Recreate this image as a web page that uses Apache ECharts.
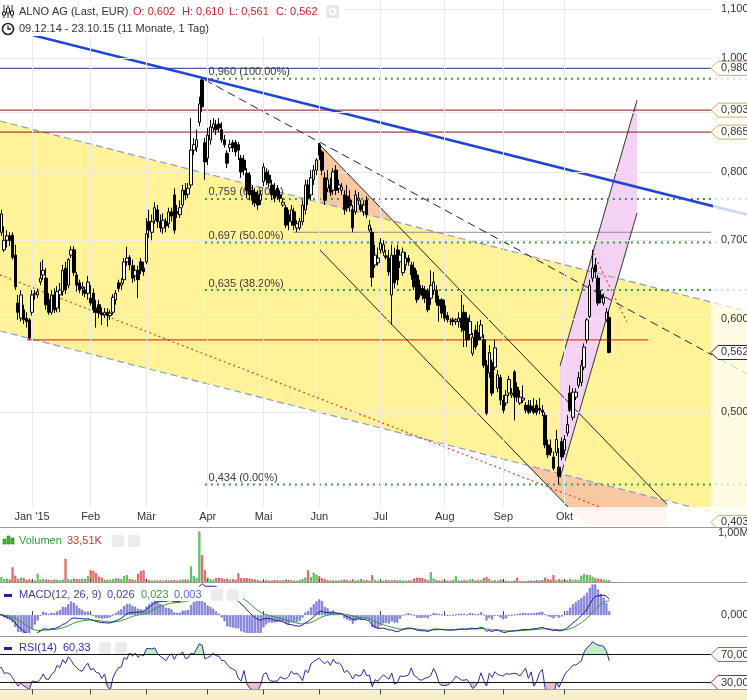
<!DOCTYPE html>
<html>
<head>
<meta charset="utf-8">
<script src="https://cdn.jsdelivr.net/npm/echarts@6/dist/echarts.min.js"></script>
<style>
html,body{margin:0;padding:0;background:#ffffff;}
#chart{width:747px;height:700px;}
</style>
</head>
<body>
<div id="chart"></div>
<script>
// ================= DATA =================
const firstDay = '2014-12-09';
const holidays = ['2014-12-24','2014-12-25','2014-12-26','2014-12-31','2015-01-01','2015-04-03','2015-04-06','2015-05-01'];
const monthNames = ["Jan '15", 'Feb', 'Mär', 'Apr', 'Mai', 'Jun', 'Jul', 'Aug', 'Sep', 'Okt', 'Nov', 'Dez'];

const opens = [
0.726,0.721,0.711,0.687,0.700,0.706,0.707,0.680,0.619,0.601,
0.611,0.601,0.599,0.608,0.631,0.629,0.645,0.654,0.650,0.623,
0.608,0.629,0.613,0.629,0.633,0.663,0.641,0.680,0.687,0.654,
0.644,0.637,0.635,0.631,0.625,0.631,0.613,0.617,0.607,0.605,
0.608,0.604,0.608,0.623,0.644,0.641,0.648,0.671,0.677,0.666,
0.653,0.660,0.671,0.663,0.671,0.726,0.711,0.728,0.743,0.726,
0.717,0.726,0.723,0.740,0.765,0.740,0.736,0.750,0.772,0.766,
0.780,0.835,0.840,0.882,0.958,0.847,0.822,0.852,0.872,0.877,
0.879,0.869,0.852,0.830,0.839,0.847,0.848,0.844,0.822,0.819,
0.798,0.795,0.772,0.769,0.765,0.757,0.785,0.800,0.795,0.780,
0.772,0.775,0.765,0.750,0.746,0.736,0.726,0.740,0.717,0.717,
0.726,0.743,0.780,0.765,0.788,0.803,0.844,0.832,0.791,0.775,
0.780,0.772,0.803,0.775,0.772,0.765,0.763,0.757,0.743,0.740,
0.757,0.750,0.740,0.757,0.714,0.711,0.667,0.670,0.687,0.684,
0.679,0.676,0.629,0.680,0.687,0.671,0.657,0.667,0.676,0.667,
0.663,0.654,0.641,0.637,0.635,0.633,0.625,0.635,0.635,0.623,
0.623,0.616,0.604,0.597,0.599,0.597,0.597,0.601,0.608,0.601,
0.582,0.561,0.587,0.584,0.579,0.576,0.548,0.540,0.551,0.546,
0.524,0.535,0.512,0.509,0.519,0.517,0.541,0.525,0.509,0.512,
0.507,0.507,0.506,0.504,0.507,0.504,0.502,0.497,0.469,0.466,
0.458,0.462,0.449,0.472,0.464,0.480,0.519,0.495,0.515,0.527,
0.530,0.546,0.576,0.603,0.650,0.667,0.650,0.629,0.619,0.599,
0.602];
const closes = [
0.731,0.736,0.737,0.700,0.706,0.700,0.677,0.639,0.608,0.629,
0.599,0.597,0.578,0.629,0.630,0.633,0.650,0.660,0.617,0.608,
0.629,0.611,0.633,0.635,0.660,0.635,0.674,0.687,0.657,0.641,
0.635,0.639,0.631,0.645,0.619,0.611,0.608,0.607,0.605,0.608,
0.604,0.607,0.626,0.631,0.637,0.644,0.671,0.676,0.667,0.650,
0.660,0.648,0.660,0.658,0.709,0.714,0.726,0.746,0.726,0.717,
0.728,0.720,0.740,0.734,0.714,0.738,0.746,0.772,0.765,0.775,
0.835,0.844,0.852,0.914,0.909,0.816,0.860,0.874,0.879,0.869,
0.872,0.852,0.844,0.814,0.844,0.839,0.832,0.835,0.800,0.803,
0.772,0.765,0.757,0.753,0.750,0.765,0.808,0.788,0.783,0.765,
0.760,0.763,0.760,0.754,0.721,0.726,0.743,0.721,0.723,0.726,
0.750,0.780,0.760,0.791,0.803,0.819,0.827,0.803,0.757,0.788,
0.769,0.800,0.772,0.780,0.777,0.743,0.746,0.749,0.717,0.765,
0.760,0.743,0.750,0.736,0.721,0.651,0.680,0.676,0.696,0.694,
0.677,0.658,0.680,0.644,0.648,0.680,0.684,0.676,0.671,0.654,
0.639,0.623,0.629,0.628,0.625,0.611,0.641,0.645,0.620,0.616,
0.607,0.601,0.599,0.597,0.597,0.599,0.601,0.590,0.587,0.576,
0.597,0.579,0.568,0.576,0.593,0.548,0.499,0.562,0.519,0.567,
0.538,0.512,0.502,0.517,0.533,0.519,0.515,0.515,0.515,0.514,
0.502,0.500,0.502,0.500,0.500,0.502,0.500,0.469,0.460,0.462,
0.448,0.474,0.441,0.458,0.474,0.488,0.502,0.520,0.520,0.535,
0.548,0.568,0.599,0.641,0.663,0.658,0.619,0.625,0.626,0.608,
0.562];
const lows = [
0.717,0.711,0.706,0.684,0.690,0.692,0.674,0.635,0.599,0.597,
0.594,0.590,0.576,0.604,0.623,0.625,0.641,0.648,0.611,0.605,
0.605,0.607,0.608,0.608,0.628,0.630,0.637,0.676,0.653,0.633,
0.631,0.628,0.626,0.623,0.616,0.607,0.590,0.601,0.593,0.601,
0.591,0.599,0.605,0.617,0.633,0.635,0.643,0.666,0.660,0.644,
0.646,0.625,0.655,0.653,0.668,0.703,0.700,0.723,0.717,0.711,
0.709,0.711,0.717,0.726,0.709,0.731,0.731,0.746,0.757,0.760,
0.775,0.827,0.832,0.875,0.900,0.788,0.811,0.844,0.865,0.860,
0.865,0.847,0.839,0.806,0.832,0.832,0.825,0.819,0.791,0.795,
0.760,0.757,0.750,0.747,0.743,0.750,0.778,0.780,0.777,0.757,
0.754,0.757,0.754,0.747,0.717,0.714,0.720,0.714,0.711,0.714,
0.721,0.736,0.750,0.757,0.780,0.795,0.819,0.795,0.750,0.769,
0.763,0.765,0.765,0.768,0.765,0.736,0.740,0.740,0.711,0.736,
0.750,0.740,0.734,0.731,0.711,0.639,0.663,0.666,0.682,0.679,
0.674,0.653,0.593,0.637,0.641,0.663,0.653,0.660,0.666,0.648,
0.635,0.619,0.625,0.623,0.619,0.608,0.617,0.629,0.616,0.597,
0.601,0.597,0.596,0.593,0.592,0.593,0.590,0.585,0.568,0.568,
0.576,0.558,0.565,0.570,0.576,0.545,0.497,0.535,0.516,0.543,
0.520,0.507,0.499,0.506,0.516,0.514,0.492,0.510,0.507,0.509,
0.499,0.498,0.499,0.498,0.497,0.498,0.496,0.466,0.457,0.459,
0.446,0.459,0.434,0.455,0.460,0.477,0.500,0.492,0.512,0.524,
0.526,0.543,0.572,0.601,0.645,0.650,0.616,0.619,0.616,0.597,
0.561];
const highs = [
0.740,0.743,0.743,0.719,0.714,0.711,0.711,0.694,0.629,0.635,
0.617,0.608,0.601,0.635,0.635,0.637,0.671,0.674,0.663,0.631,
0.635,0.637,0.640,0.644,0.667,0.671,0.676,0.692,0.692,0.658,
0.648,0.645,0.639,0.653,0.641,0.637,0.623,0.623,0.614,0.613,
0.613,0.611,0.630,0.635,0.648,0.650,0.676,0.691,0.680,0.674,
0.667,0.666,0.676,0.671,0.731,0.743,0.736,0.754,0.750,0.736,
0.738,0.731,0.746,0.746,0.775,0.750,0.757,0.780,0.783,0.783,
0.889,0.855,0.869,0.927,0.960,0.855,0.872,0.886,0.889,0.886,
0.889,0.882,0.860,0.835,0.852,0.852,0.852,0.848,0.827,0.827,
0.806,0.800,0.780,0.775,0.772,0.772,0.814,0.806,0.803,0.788,
0.783,0.780,0.772,0.760,0.750,0.743,0.750,0.746,0.728,0.731,
0.757,0.788,0.788,0.803,0.811,0.822,0.847,0.835,0.800,0.803,
0.791,0.806,0.811,0.788,0.783,0.772,0.780,0.772,0.750,0.772,
0.769,0.757,0.757,0.763,0.728,0.717,0.694,0.690,0.703,0.700,
0.687,0.687,0.694,0.690,0.694,0.687,0.690,0.684,0.680,0.671,
0.671,0.660,0.648,0.641,0.640,0.637,0.660,0.658,0.641,0.628,
0.625,0.623,0.608,0.601,0.602,0.601,0.608,0.629,0.617,0.608,
0.605,0.584,0.593,0.597,0.599,0.582,0.554,0.570,0.554,0.576,
0.543,0.538,0.517,0.522,0.537,0.524,0.543,0.530,0.522,0.527,
0.510,0.512,0.512,0.514,0.512,0.514,0.507,0.500,0.474,0.474,
0.463,0.483,0.466,0.476,0.478,0.497,0.527,0.524,0.524,0.541,
0.554,0.572,0.601,0.648,0.687,0.676,0.654,0.635,0.631,0.613,
0.610];
// volume in thousand shares
const volumesK = [
120,80,100,60,70,50,300,130,60,90,
80,40,60,40,30,170,50,60,50,45,
40,50,45,40,50,470,60,50,70,60,
55,70,60,120,240,230,180,110,90,50,
40,50,60,80,70,60,120,140,60,50,
40,170,220,240,60,40,30,40,30,35,
30,40,30,35,40,30,40,50,50,50,
320,120,80,1030,550,240,90,60,50,80,
90,80,60,70,50,60,50,180,80,80,
80,70,60,50,40,30,30,40,30,30,
40,35,30,40,50,40,35,30,25,40,
60,90,240,100,190,150,120,80,60,40,
30,40,30,30,40,50,40,30,60,30,
40,60,40,40,30,140,40,30,30,30,
40,30,40,40,30,40,30,30,30,30,
70,90,90,80,60,40,200,70,40,30,
30,30,30,30,40,120,30,30,40,30,
50,60,30,40,40,80,100,70,30,40,
30,50,40,30,20,20,30,90,20,20,
20,20,30,30,40,30,40,90,60,50,
140,40,60,40,50,40,60,40,50,40,
130,160,150,140,110,80,70,60,50,40,
33.51];

// right axis price ticks and grid
const priceTicks = [1.1, 1.0, 0.8, 0.7, 0.6, 0.5];
const gridPrices = [1.1, 1.0, 0.9, 0.8, 0.7, 0.6, 0.5, 0.4];
// Fibonacci retracement
const fibLevels = [0.960, 0.759, 0.697, 0.635, 0.434];
const fibPercents = ['100.00%', '61.80%', '50.00%', '38.20%', '0.00%'];
const fibStartIdx = 75;
const fibLabelIdx = 76.3;
// price tags on the right axis
const priceTags = [0.980, 0.903, 0.865, 0.562, 0.403];
const rsiLevels = [70, 30];
// header / legend texts
const quoteO = '0,602', quoteH = '0,610', quoteL = '0,561', quoteC = '0,562';
const lastVolumeText = '33,51K';
const macdValueTexts = ['0,026', '0,023', '0,003'];
const rsiValueText = '60,33';

// drawing tools: [trading-day index, price]
const channelUpper = [[1.5, 0.884], [270, 0.6087]];
const channelLower = [[1.5, 0.5861], [270, 0.4036]];
const blueTrend = [[1.5, 1.0627], [270, 0.7354]];
const peakDashed = [[75.0, 0.958], [270, 0.538]];
const downUpper = [[115.56, 0.8468], [240.74, 0.4174]];
const downLower = [[115.92, 0.6881], [205.24, 0.4153]];
const redDottedLong = [[1.5, 0.654], [216.7, 0.4153]];
const redDottedShort = [[214.3, 0.6823], [226.3, 0.5969]];
const pinkLeft = [[202.36, 0.5473], [229.98, 0.9211]];
const pinkRight = [[202.36, 0.4396], [229.98, 0.7384]];
const hBlue098 = [[1.5, 0.980], [256.5, 0.980]];
const hRed0903 = [[1.5, 0.903], [256.5, 0.903]];
const hRed0865 = [[1.5, 0.865], [256.5, 0.865]];
const hLow0576 = [[11.2, 0.576], [233.9, 0.576]];
const hGray0711 = [[106.6, 0.711], [256.5, 0.711]];
const orangeTop = [[115.56, 0.8468], [142.6, 0.7266], [115.56, 0.7544]];
const orangeBottom = [[190.9, 0.4505], [239.0, 0.4213], [240.74, 0.4172], [240.74, 0.3994], [212.15, 0.3994]];

// ================= CHART =================
const FONT = '"Liberation Sans", Arial, Helvetica, sans-serif';
const FS = 11;
const TOTAL = 257;
const X_MIN = 1.5, X_MAX = 256.5, X_EXT = 256.5 + 36 * 255 / 711;
const Y_MIN = 0.39938, Y_MAX = 1.1202;
function tradingDays(start, count, hol) {
  const out = []; const d = new Date(start + 'T12:00:00Z');
  while (out.length < count) {
    const wd = d.getUTCDay(); const s = d.toISOString().slice(0, 10);
    if (wd !== 0 && wd !== 6 && hol.indexOf(s) < 0) out.push(s);
    d.setUTCDate(d.getUTCDate() + 1);
  }
  return out;
}
const N = closes.length;
const days = tradingDays(firstDay, TOTAL, holidays);
const labelByDate = {}; const monthStart = {};
for (let i = 1; i < N; i++) {
  if (days[i].slice(5, 7) !== days[i - 1].slice(5, 7)) {
    labelByDate[days[i]] = monthNames[+days[i].slice(5, 7) - 1];
    monthStart[i] = true;
  }
}
const isMS = (i) => !!monthStart[i];
const fmt = (v, d) => v.toFixed(d).replace('.', ',');
// point on a drawn (log-straight) line at index x
const at = (ln, x) => [x, Math.exp(Math.log(ln[0][1]) + (Math.log(ln[1][1]) - Math.log(ln[0][1])) * (x - ln[0][0]) / (ln[1][0] - ln[0][0]))];

// indicators (standard definitions, computed from closes)
function ema(arr, n) { const k = 2 / (n + 1); const out = []; let e = arr[0];
  for (let i = 0; i < arr.length; i++) { e = i === 0 ? arr[0] : arr[i] * k + e * (1 - k); out.push(e); } return out; }
const e12 = ema(closes, 12), e26 = ema(closes, 26);
const macd = closes.map((c, i) => e12[i] - e26[i]);
const signal = ema(macd, 9);
const hist = macd.map((m, i) => m - signal[i]);
// RSI(14) from 14-day sums of gains and losses; days before the shown range count as neutral
const rsiSeed = 0.008;
const rsi = [50];
for (let i = 1; i < N; i++) {
  let g = 0, l = 0;
  for (let k = i - 13; k <= i; k++) {
    if (k >= 1) { const d = closes[k] - closes[k - 1]; if (d > 0) g += d; else l -= d; }
    else { g += rsiSeed; l += rsiSeed; }
  }
  rsi.push(g + l === 0 ? 50 : 100 * g / (g + l));
}

const chart = echarts.init(document.getElementById('chart'), null, { renderer: 'canvas', width: 747, height: 700 });

function xCat(gridIndex, extra) {
  return Object.assign({ type: 'category', gridIndex: gridIndex, data: days, min: 2, max: TOTAL - 1, boundaryGap: true,
    axisLine: { show: false }, axisTick: { show: false }, axisLabel: { show: false }, splitLine: { show: false } }, extra || {});
}
// ax: 1 = main price area, 5 = faint strip right of the plot
function seg(pts, color, width, type, z, ax, opacity, markLine) {
  const s = { type: 'line', xAxisIndex: ax || 1, yAxisIndex: ax === 5 ? 5 : 0, data: pts, symbol: 'none', showSymbol: false, silent: true,
    z: z || 3, clip: true, animation: false, lineStyle: { color: color, width: width, type: type || 'solid', opacity: opacity == null ? 1 : opacity } };
  if (markLine) s.markLine = markLine;
  return s;
}
function poly(pts, fill, z, ax) {
  return { type: 'custom', xAxisIndex: ax || 1, yAxisIndex: ax === 5 ? 5 : 0, z: z, silent: true, data: [[pts[0][0], pts[0][1]]],
    renderItem: (params, api) => ({ type: 'polygon', shape: { points: pts.map(p => api.coord(p)) }, style: { fill: fill } }) };
}
const tickStyle = { color: '#444' };
const gridLineMark = {
  silent: true, symbol: ['none', 'none'], label: { show: false }, animation: false,
  lineStyle: { color: '#e9e9e9', width: 1, type: 'solid' },
  data: Object.keys(monthStart).map(i => ({ xAxis: +i })).concat(gridPrices.map(p => ({ yAxis: p })))
};
const greenVol = { color: '#8fe68f', borderColor: '#2aa52a', borderWidth: 0.7 };
const redVol = { color: '#f6a3a3', borderColor: '#cf3535', borderWidth: 0.7 };

const mainSeries = [
  poly([channelUpper[0], at(channelUpper, X_MAX), at(channelLower, X_MAX), channelLower[0]], '#fff39a', 1),
  poly(orangeTop, '#f8c8a0', 1.1),
  poly(orangeBottom, '#f8c8a0', 1.1),
  poly([pinkLeft[0], pinkLeft[1], pinkRight[1], pinkRight[0]], '#f4d2f4', 1.2),
  seg(channelUpper, '#8d9bc6', 1.2, [7, 4], 3, 1, 1, gridLineMark),
  seg(channelLower, '#8d9bc6', 1.2, [7, 4]),
  seg(hBlue098, '#1b3a8c', 1),
  seg(hRed0903, '#8c1414', 1),
  seg(hRed0865, '#8c1414', 1),
  seg(hGray0711, '#8f8f8f', 1),
  seg(hLow0576, '#e2401f', 1.3),
  seg(redDottedLong, '#e0402a', 1.2, [2, 3]),
  seg(redDottedShort, '#e0402a', 1.2, [2, 3]),
  seg(peakDashed, '#222', 1, [8, 5]),
  seg(downUpper, '#222', 1),
  seg(downLower, '#222', 1),
  seg(pinkLeft, '#333', 1),
  seg(pinkRight, '#333', 1),
  seg(blueTrend, '#1e46d6', 2.6, 'solid', 3.5)
].concat(fibLevels.map(v => seg([[fibStartIdx, v], [270, v]], '#3e9a3e', 2, [2, 4], 3.2)));
// faint continuation right of the plot area
const extSeries = [
  poly([at(channelUpper, X_MAX), at(channelUpper, X_EXT), at(channelLower, X_EXT), at(channelLower, X_MAX)], 'rgba(255,243,154,0.28)', 1, 5),
  seg(channelUpper, '#8d9bc6', 1.2, [7, 4], 3, 5, 0.3),
  seg(channelLower, '#8d9bc6', 1.2, [7, 4], 3, 5, 0.3),
  seg(peakDashed, '#222', 1, [8, 5], 3, 5, 0.25),
  seg(blueTrend, '#1e46d6', 2.6, 'solid', 3.5, 5, 0.22)
].concat(fibLevels.map(v => seg([[fibStartIdx, v], [270, v]], '#3e9a3e', 2, [2, 4], 3.2, 5, 0.25)));

const option = {
  animation: false,
  textStyle: { fontFamily: FONT },
  grid: [
    { left: 0, top: 0, width: 711, height: 527, outerBoundsMode: 'none' },
    { left: 0, top: 527, width: 711, height: 55, outerBoundsMode: 'none' },
    { left: 0, top: 582, width: 711, height: 54, outerBoundsMode: 'none' },
    { left: 0, top: 633.5, width: 711, height: 70, outerBoundsMode: 'none' },
    { left: 711, top: 0, width: 36, height: 527, outerBoundsMode: 'none' }
  ],
  xAxis: [
    xCat(0, { z: 60, axisLabel: { show: true, inside: true, margin: 5, color: '#333', fontSize: FS, fontFamily: FONT,
      interval: (i) => isMS(i), formatter: (v) => labelByDate[v] || '' } }),
    { type: 'value', gridIndex: 0, min: X_MIN, max: X_MAX, show: false },
    xCat(1, { position: 'top', z: 80, axisTick: { show: true, inside: false, length: 3, alignWithLabel: true, interval: (i) => isMS(i), lineStyle: tickStyle } }),
    xCat(2, { axisTick: { show: true, inside: true, length: 4, alignWithLabel: true, interval: (i) => isMS(i), lineStyle: tickStyle } }),
    xCat(3, { offset: -14, z: 80, axisTick: { show: true, inside: false, length: 5, alignWithLabel: true, interval: (i) => isMS(i), lineStyle: tickStyle } }),
    { type: 'value', gridIndex: 4, min: X_MAX, max: X_EXT, show: false }
  ],
  yAxis: [
    { type: 'log', logBase: 10, gridIndex: 0, min: Y_MIN, max: Y_MAX, show: false },
    { type: 'value', gridIndex: 1, min: 0, max: 1122, show: false },
    { type: 'value', gridIndex: 2, min: -0.036, max: 0.057, show: false },
    { type: 'value', gridIndex: 2, min: -0.015, max: 0.02375, show: false },
    { type: 'value', gridIndex: 3, min: 0, max: 100, show: false },
    { type: 'log', logBase: 10, gridIndex: 4, min: Y_MIN, max: Y_MAX, show: false }
  ],
  series: mainSeries.concat(extSeries).concat([
    { type: 'custom', xAxisIndex: 1, yAxisIndex: 0, z: 4, silent: true,
      data: fibLevels.map((v, i) => [fibLabelIdx, v, i]),
      renderItem: (params, api) => {
        const p = api.coord([api.value(0), api.value(1)]); const i = api.value(2);
        return { type: 'text', x: p[0], y: p[1] - 1, style: { text: fmt(fibLevels[i], 3) + ' (' + fibPercents[i] + ')',
          fill: '#3a3a3a', font: FS + 'px ' + FONT, textAlign: 'left', textVerticalAlign: 'bottom', align: 'left', verticalAlign: 'bottom' } };
      } },
    { type: 'candlestick', xAxisIndex: 0, yAxisIndex: 0, z: 6, barWidth: 3, silent: true,
      data: opens.map((o, i) => [o, closes[i], lows[i], highs[i]]),
      itemStyle: { color: '#ffffff', color0: '#000000', borderColor: '#000000', borderColor0: '#000000', borderWidth: 1 } },
    { type: 'bar', xAxisIndex: 2, yAxisIndex: 1, barWidth: 2, silent: true,
      data: volumesK.map((v, i) => ({ value: v, itemStyle: closes[i] >= opens[i] ? greenVol : redVol })) },
    { type: 'bar', xAxisIndex: 3, yAxisIndex: 3, barWidth: 2, silent: true, data: hist,
      itemStyle: { color: '#9c9ced', borderColor: '#5555c4', borderWidth: 0.6 } },
    { type: 'line', xAxisIndex: 3, yAxisIndex: 2, data: signal, symbol: 'none', silent: true, lineStyle: { color: '#2f9e2f', width: 1 } },
    { type: 'line', xAxisIndex: 3, yAxisIndex: 2, data: macd, symbol: 'none', silent: true, lineStyle: { color: '#1c1c86', width: 1 } },
    { type: 'line', xAxisIndex: 4, yAxisIndex: 4, data: rsi.map(() => 70), stack: 'hi', symbol: 'none', silent: true, lineStyle: { opacity: 0 } },
    { type: 'line', xAxisIndex: 4, yAxisIndex: 4, data: rsi.map(r => Math.max(r, 70) - 70), stack: 'hi', symbol: 'none', silent: true,
      lineStyle: { opacity: 0 }, areaStyle: { color: '#a9e5a9' } },
    { type: 'line', xAxisIndex: 4, yAxisIndex: 4, data: rsi.map(r => Math.min(r, 30)), stack: 'lo', symbol: 'none', silent: true, lineStyle: { opacity: 0 } },
    { type: 'line', xAxisIndex: 4, yAxisIndex: 4, data: rsi.map(r => 30 - Math.min(r, 30)), stack: 'lo', symbol: 'none', silent: true,
      lineStyle: { opacity: 0 }, areaStyle: { color: '#d9a7be' } },
    { type: 'line', xAxisIndex: 4, yAxisIndex: 4, data: rsi, symbol: 'none', silent: true, z: 4, lineStyle: { color: '#2a2a9e', width: 1 },
      markLine: { silent: true, symbol: ['none', 'none'], label: { show: false }, lineStyle: { color: '#111', width: 1, type: 'solid' },
        data: rsiLevels.map(v => ({ yAxis: v })) } }
  ])
};
chart.setOption(option);

// ---------- overlay graphics positioned through the axes ----------
const py = (ax, v) => chart.convertToPixel({ yAxisIndex: ax }, v);
const G = [];
const txt = (x, y, text, fill, size, z) => ({ type: 'text', x: x, y: y, z: z || 42,
  style: { text: text, fill: fill, font: (size || FS) + 'px ' + FONT, textVerticalAlign: 'middle', verticalAlign: 'middle' } });
// title mask & band under date labels
G.push({ type: 'rect', z: 40, shape: { x: 0, y: 0, width: 345, height: 36 }, style: { fill: '#ffffff' } });
G.push({ type: 'rect', z: 50, shape: { x: 0, y: 507, width: 747, height: 20 }, style: { fill: 'rgba(255,255,255,0.84)' } });
// panel label masks
G.push({ type: 'rect', z: 40, shape: { x: 0, y: 587, width: 243, height: 14 }, style: { fill: 'rgba(255,255,255,0.92)' } });
G.push({ type: 'rect', z: 40, shape: { x: 0, y: 641, width: 131, height: 12 }, style: { fill: 'rgba(255,255,255,0.92)' } });
// clear strips between panels / bottom strip
G.push({ type: 'rect', z: 44, shape: { x: 0, y: 690, width: 747, height: 10 }, style: { fill: '#f8eecb' } });
G.push({ type: 'rect', z: 44, shape: { x: 0, y: 633, width: 747, height: 3 }, style: { fill: '#ffffff' } });
G.push({ type: 'rect', z: 74, shape: { x: 711, y: 528, width: 36, height: 12 }, style: { fill: '#ffffff' } });
[527.5, 582.5, 636.5, 689.5].forEach(y => G.push({ type: 'line', z: 75, shape: { x1: 0, y1: y, x2: 747, y2: y }, style: { stroke: '#9a9a9a', lineWidth: 1 } }));
// header
[[2.5, 12, 3], [6.5, 8, 5], [10.5, 11, 4]].forEach(b => {
  G.push({ type: 'line', z: 42, shape: { x1: b[0] + 1.5, y1: 5, x2: b[0] + 1.5, y2: 18 }, style: { stroke: '#222', lineWidth: 1 } });
  G.push({ type: 'rect', z: 43, shape: { x: b[0], y: b[1], width: 3, height: b[2] }, style: { fill: '#fff', stroke: '#222', lineWidth: 1 } });
});
G.push(txt(19, 12, 'ALNO AG (Last, EUR)', '#333'));
G.push(txt(133, 12, 'O: ' + quoteO, '#c62828'));
G.push(txt(182, 12, 'H: ' + quoteH, '#c62828'));
G.push(txt(229, 12, 'L: ' + quoteL, '#c62828'));
G.push(txt(276, 12, 'C: ' + quoteC, '#c62828'));
G.push({ type: 'rect', z: 42, shape: { x: 326, y: 5, width: 13, height: 13, r: 2 }, style: { fill: '#e6e6e6' } });
G.push({ type: 'circle', z: 43, shape: { cx: 332.5, cy: 11.5, r: 3 }, style: { fill: 'none', stroke: '#fff', lineWidth: 1.5 } });
G.push({ type: 'circle', z: 42, shape: { cx: 8, cy: 29, r: 5.5 }, style: { fill: 'none', stroke: '#222', lineWidth: 1.6 } });
G.push({ type: 'polyline', z: 42, shape: { points: [[8, 25.5], [8, 29], [11, 29]] }, style: { stroke: '#222', lineWidth: 1.3, fill: 'none' } });
G.push(txt(19, 29, '09.12.14 - 23.10.15 (11 Monate, 1 Tag)', '#333'));
// volume legend
[[3, 539, 5], [7, 536, 8], [11, 538, 6]].forEach(b => G.push({ type: 'rect', z: 42, shape: { x: b[0], y: b[1], width: 3, height: b[2] },
  style: { fill: '#3cb83c', stroke: '#1d7d1d', lineWidth: 0.6 } }));
G.push(txt(19, 541, 'Volumen', '#2f9a2f'));
G.push(txt(67, 541, lastVolumeText, '#c0392b'));
// MACD legend
G.push({ type: 'rect', z: 42, shape: { x: 4, y: 594, width: 8, height: 3 }, style: { fill: '#22228a' } });
G.push(txt(19, 595, 'MACD(12, 26, 9)', '#3c3c9a'));
G.push(txt(107, 595, macdValueTexts[0], '#3c3caa'));
G.push(txt(141, 595, macdValueTexts[1], '#3a9e3a'));
G.push(txt(174, 595, macdValueTexts[2], '#6262cf'));
// RSI legend
G.push({ type: 'rect', z: 42, shape: { x: 4, y: 647, width: 8, height: 3 }, style: { fill: '#22228a' } });
G.push(txt(19, 648, 'RSI(14)', '#2d2d9a'));
G.push(txt(63, 648, rsiValueText, '#2d2d9a'));
// faint icon boxes
[[112, 535], [128, 535], [211, 589], [227, 589], [99, 642], [115, 642]].forEach(b => G.push({ type: 'rect', z: 42,
  shape: { x: b[0], y: b[1], width: 12, height: 12, r: 2 }, style: { fill: '#ececec' } }));
// right axis labels
priceTicks.forEach(v => G.push(txt(721, py(0, v), fmt(v, 3), '#333', FS, 60)));
G.push(txt(718, py(1, 1000), '1,00M', '#333', FS, 76));
G.push(txt(721, py(2, 0), fmt(0, 3), '#333', FS, 60));
function tag(y, text, stroke) {
  G.push({ type: 'polygon', z: 70, shape: { points: [[711, y], [718, y - 7], [760, y - 7], [760, y + 7], [718, y + 7]] },
    style: { fill: '#ffffff', stroke: stroke, lineWidth: 1 } });
  G.push(txt(721, y, text, '#333', FS, 71));
}
priceTags.forEach(v => tag(py(0, v), fmt(v, 3), v === closes[N - 1] ? '#222' : '#d6b04a'));
tag(py(4, rsiLevels[0]), fmt(rsiLevels[0], 2), '#3c9a3c');
tag(py(4, rsiLevels[1]), fmt(rsiLevels[1], 2), '#9c2a2a');
chart.setOption({ graphic: { elements: G } });
</script>
</body>
</html>
